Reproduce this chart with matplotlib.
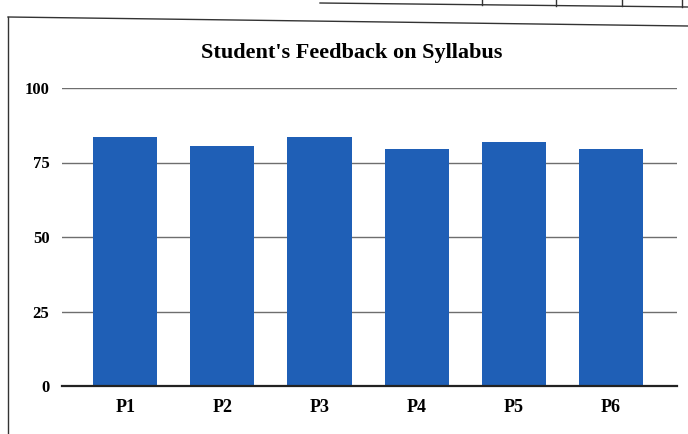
import matplotlib.pyplot as plt
from matplotlib.lines import Line2D

categories = ["P1", "P2", "P3", "P4", "P5", "P6"]
scores = [83.5, 80.5, 83.5, 79.5, 82, 79.5]
y_ticks = [0, 25, 50, 75, 100]

plt.rcParams["font.family"] = ["Liberation Serif", "DejaVu Serif"]

fig = plt.figure(figsize=(6.88, 4.34), dpi=100)
ax = fig.add_axes([62 / 688, 1 - 386 / 434, 615 / 688, 298 / 434])

x = list(range(len(categories)))
ax.bar(x, scores, width=0.66, color="#1f5fb6", zorder=3)

ax.set_xlim(-0.65, 5.68)
ax.set_ylim(0, 100)
ax.set_yticks(y_ticks)
ax.set_yticklabels([str(t) for t in y_ticks], fontsize=12, fontweight="bold")
ax.set_xticks(x)
ax.set_xticklabels(categories, fontsize=13, fontweight="bold")
ax.tick_params(axis="both", length=0)
ax.tick_params(axis="y", pad=9)
ax.tick_params(axis="x", pad=9)

ax.grid(axis="y", color="#6e6e6e", linewidth=1.0, zorder=0)
for side in ["top", "right", "left"]:
    ax.spines[side].set_visible(False)
ax.spines["bottom"].set_color("#222222")
ax.spines["bottom"].set_linewidth(1.6)
ax.spines["bottom"].set_zorder(4)

fig.text(352 / 688, 1 - 53 / 434, "Student's Feedback on Syllabus",
         ha="center", va="center", fontsize=16, fontweight="bold")

# outer chart frame and fragment of the table above it
W, H = 688, 434
frame = [
    ((8, 8), (17, H)),
    ((8, W), (17, 26)),
    ((320, W), (3, 7)),
    ((482, 482), (0, 5)),
    ((556, 556), (0, 6)),
    ((622, 622), (0, 6)),
    ((682, 682), (0, 7)),
]
for xs, ys in frame:
    fig.add_artist(Line2D([v / W for v in xs], [1 - v / H for v in ys],
                          color="#333333", linewidth=1.0))

fig.savefig("out.png", dpi=100)
